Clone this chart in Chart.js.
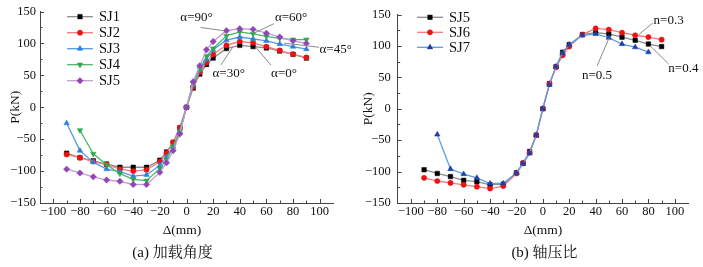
<!DOCTYPE html>
<html><head><meta charset="utf-8">
<script src="https://cdn.jsdelivr.net/npm/chart.js@4.4.1/dist/chart.umd.min.js"></script>
<style>
html,body{margin:0;padding:0;background:#fff;}
#wrap{position:relative;width:703px;height:267px;overflow:hidden;}
.c{position:absolute;top:0;height:267px;}
</style></head><body>
<div id="wrap">
<div class="c" style="left:0;width:351px"><canvas id="ca"></canvas></div>
<div class="c" style="left:351px;width:352px"><canvas id="cb"></canvas></div>
</div>
<script>
// ---------- data ----------
const displacement = [-90,-80,-70,-60,-50,-40,-30,-20,-15,-10,-5,0,5,10,15,20,30,40,50,60,70,80,90];
// (a) loading angle
const SJ1 = [-72,-79,-84,-89,-94,-94,-94,-83,-70,-55,-32,0,30,52,67,77,92,97,95,93,88,83,77];
const SJ2 = [-74,-79,-85,-90,-97,-100,-98,-85,-72,-55,-32,0,32,55,70,83,97,103,101,95,89,83,78];
const SJ3 = [-25,-68,-86,-97,-101,-108,-106,-91,-78,-62,-38,0,35,58,75,90,105,110,107,104,99,95,91];
const SJ4 = [null,-36,-73,-90,-104,-113,-115,-96,-82,-62,-38,0,38,60,80,92,112,118,115,111,108,106,106];
const SJ5a = [-97,-103,-109,-114,-116,-121,-121,-102,-87,-68,-42,0,40,65,90,103,120,123,122,116,110,104,100];
// (b) axial compression ratio
const SJ5b = [-97,-103,-108,-114,-116,-121,-120,-102,-87,-68,-42,0,40,67,90,102,118,121,119,114,109,103,99];
const SJ6 = [-110,-115,-118,-121,-124,-127,-123,-103,-86,-70,-42,0,40,66,85,99,118,128,126,121,117,114,110];
const SJ7 = [null,-41,-96,-104,-110,-119,-119,-102,-87,-71,-42,0,38,67,89,102,117,119,113,103,98,90,null];

const xTickLabels = [-100,-80,-60,-40,-20,0,20,40,60,80,100];
const yTickLabels = [-150,-100,-50,0,50,100,150];

const FONT = "'Liberation Serif','Times New Roman','Noto Sans CJK SC',serif";
const CJKFONT = "'Liberation Serif','Noto Serif CJK SC','Noto Sans CJK SC',serif";
const minus = v => String(v).replace('-', '\u2212');
const pts = arr => displacement.map((x,i)=>({x, y: arr[i]})).filter(p => p.y !== null);

function ds(label, arr, line, mark, style, rot){
  return {label, data: pts(arr), borderColor: line, backgroundColor: mark,
    pointBorderColor: mark, pointBackgroundColor: mark, pointStyle: style,
    pointRotation: rot||0, pointRadius: style==='rect'?3.2:(style==='circle'?2.6:3.2),
    pointBorderWidth: 0.5, borderWidth: 1.3, tension: 0, showLine: true};
}

const custom = {
  id: 'custom',
  afterDraw(chart){
    const o = chart.options.plugins.custom; const ctx = chart.ctx;
    const xs = chart.scales.x, ys = chart.scales.y, a = chart.chartArea;
    ctx.save();
    // inward ticks
    ctx.strokeStyle = '#444'; ctx.lineWidth = 1;
    for (let v=-100; v<=100; v+=10){
      const px = Math.round(xs.getPixelForValue(v))+0.5, len = v%20===0?4:2.5;
      ctx.beginPath(); ctx.moveTo(px, a.bottom); ctx.lineTo(px, a.bottom-len); ctx.stroke();
    }
    for (let v=-150; v<=150; v+=25){
      const py = Math.round(ys.getPixelForValue(v))+0.5, len = v%50===0?4:2.5;
      ctx.beginPath(); ctx.moveTo(a.left, py); ctx.lineTo(a.left+len, py); ctx.stroke();
    }
    // legend
    const L = o.legend;
    chart.data.datasets.forEach((d,i)=>{
      const y = L.y + i*L.dy;
      ctx.strokeStyle = d.borderColor; ctx.lineWidth = 1.3;
      ctx.beginPath(); ctx.moveTo(L.x, y); ctx.lineTo(L.x+L.w, y); ctx.stroke();
      ctx.fillStyle = d.pointBackgroundColor; ctx.strokeStyle = d.pointBorderColor; ctx.lineWidth = 0.5;
      Chart.helpers.drawPoint(ctx, {pointStyle: d.pointStyle, radius: d.pointRadius, rotation: d.pointRotation, borderWidth: 0.5}, L.x+L.w/2, y);
      ctx.fillStyle = '#111'; ctx.font = "14.5px "+FONT; ctx.textBaseline='middle'; ctx.textAlign='left';
      ctx.fillText(d.label, L.x+L.w+6, y+0.5);
    });
    // annotations
    ctx.font = "13px "+FONT; ctx.textAlign='center'; ctx.textBaseline='middle';
    o.notes.forEach(n=>{
      ctx.strokeStyle = '#8a8a8a'; ctx.lineWidth = 1;
      ctx.beginPath();
      ctx.moveTo(xs.getPixelForValue(n.l[0]), ys.getPixelForValue(n.l[1]));
      ctx.lineTo(xs.getPixelForValue(n.l[2]), ys.getPixelForValue(n.l[3]));
      ctx.stroke();
      ctx.fillStyle = '#111';
      ctx.fillText(n.t, xs.getPixelForValue(n.p[0]), ys.getPixelForValue(n.p[1]));
    });
    // axis title + caption
    ctx.fillStyle = '#111';
    ctx.font = "13.5px "+FONT;
    ctx.fillText('\u0394(mm)', o.xTitle[0], o.xTitle[1]);
    ctx.font = "15px "+CJKFONT;
    ctx.fillText(o.caption, o.capPos[0], o.capPos[1]);
    ctx.restore();
  }
};

function make(id, datasets, yWidth, yPad, yTitlePad, padRight, caption, capPos, xTitle, legend, notes){
  return new Chart(document.getElementById(id), {
    type: 'scatter',
    data: {datasets},
    options: {
      responsive: true, maintainAspectRatio: false, animation: false,
      layout: {padding: {top: 9, right: padRight, left: 0, bottom: 0}},
      plugins: {legend: {display: false}, tooltip: {enabled: false},
        custom: {legend, notes, caption, capPos, xTitle}},
      scales: {
        x: {type: 'linear', min: -110, max: 110,
          afterBuildTicks: s => { s.ticks = xTickLabels.map(v=>({value: v})); },
          afterFit: s => { s.height = 64; },
          grid: {display: false, drawTicks: false},
          border: {display: true, color: '#444', width: 1},
          ticks: {color: '#111', font: {family: FONT, size: 12.5}, padding: 1, maxRotation: 0, autoSkip: false,
            callback: v => minus(v)},
          title: {display: false}
        },
        y: {type: 'linear', min: -150, max: 150,
          afterBuildTicks: s => { s.ticks = yTickLabels.map(v=>({value: v})); },
          afterFit: s => { s.width = yWidth; },
          grid: {display: false, drawTicks: false},
          border: {display: true, color: '#444', width: 1},
          ticks: {color: '#111', font: {family: FONT, size: 12.5}, padding: yPad, callback: v => minus(v)},
          title: {display: true, text: 'P(kN)', color: '#111', font: {family: FONT, size: 13.5}, padding: {top: yTitlePad, bottom: 0}}
        }
      }
    },
    plugins: [custom]
  });
}

const dA = [
  ds('SJ1', SJ1, '#8c8c8c', '#000000', 'rect'),
  ds('SJ2', SJ2, '#f27c7c', '#ee1111', 'circle'),
  ds('SJ3', SJ3, '#4f9be8', '#2a80dd', 'triangle'),
  ds('SJ4', SJ4, '#4cb86a', '#2ea84a', 'triangle', 180),
  ds('SJ5', SJ5a, '#c49ad8', '#9146b4', 'rectRot')
];
dA.forEach((d,i)=>d.order = -i);
make('ca', dA, 40, 4, 7, 18, '(a) 加载角度', [172.5, 253], [182, 230], {x: 67, y: 16.7, dy: 16, w: 26}, [
  {t: 'α=90°', p: [7.5, 140.5], l: [10.6, 125, 27.7, 120]},
  {t: 'α=60°', p: [78.5, 140.5], l: [65.7, 131, 50.6, 116]},
  {t: 'α=45°', p: [112, 91], l: [99.6, 94, 73.2, 100.5]},
  {t: 'α=30°', p: [31.7, 52.4], l: [25.7, 66, 34.7, 94]},
  {t: 'α=0°', p: [73.2, 52.4], l: [63.4, 66, 52, 94]}
]);

const dB = [
  ds('SJ5', SJ5b, '#8c8c8c', '#000000', 'rect'),
  ds('SJ6', SJ6, '#f27c7c', '#ee1111', 'circle'),
  ds('SJ7', SJ7, '#5a9ee6', '#1f3fa8', 'triangle')
];
dB.forEach((d,i)=>d.order = -i);
make('cb', dB, 46.7, 7, 9, 15, '(b) 轴压比', [193.5, 253], [192, 230], {x: 66, y: 17.3, dy: 15, w: 26}, [
  {t: 'n=0.3', p: [95.3, 141], l: [83.2, 136.4, 72.7, 117.8]},
  {t: 'n=0.4', p: [106.5, 63.6], l: [95.3, 71.3, 81.5, 99.7]},
  {t: 'n=0.5', p: [41.1, 52.7], l: [41.1, 68.2, 50.2, 112.7]}
]);
</script>
</body></html>
